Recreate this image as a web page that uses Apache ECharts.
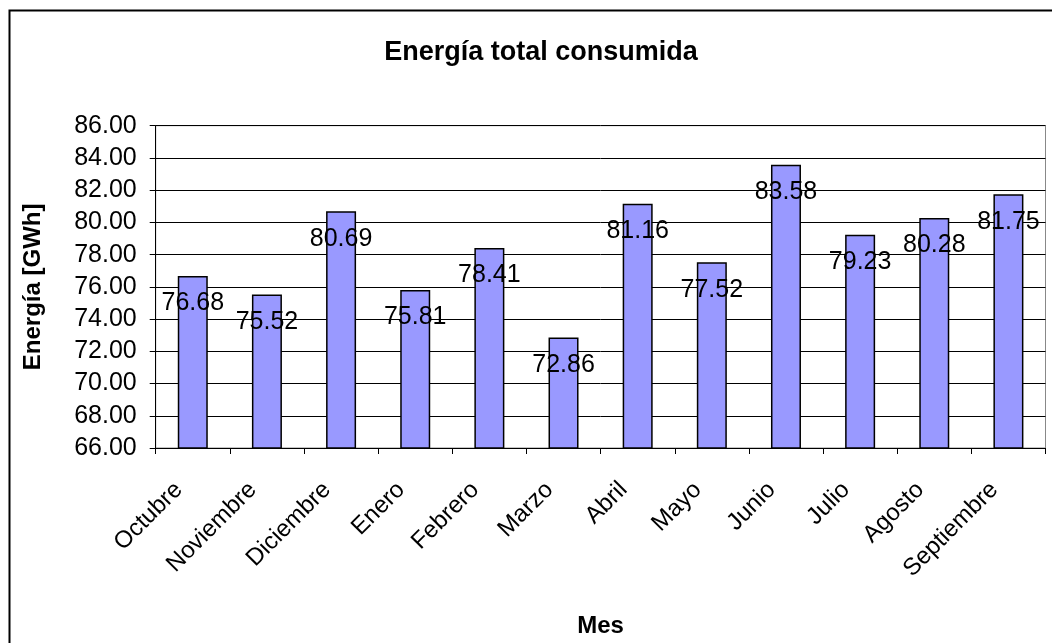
<!DOCTYPE html>
<html>
<head>
<meta charset="utf-8">
<script src="https://cdn.jsdelivr.net/npm/echarts@6/dist/echarts.min.js"></script>
<style>
html,body{margin:0;padding:0;background:#fff;}
#chart{width:1052px;height:643px;}
</style>
</head>
<body>
<div id="chart"></div>
<script>
const months = ['Octubre','Noviembre','Diciembre','Enero','Febrero','Marzo','Abril','Mayo','Junio','Julio','Agosto','Septiembre'];
const energy = [76.68, 75.52, 80.69, 75.81, 78.41, 72.86, 81.16, 77.52, 83.58, 79.23, 80.28, 81.75];
const chartTitle = 'Energía total consumida';
const yName = 'Energía [GWh]';
const xName = 'Mes';
const yMin = 66, yMax = 86, yStep = 2;

const FONT = '"Liberation Sans", Arial, sans-serif';
const chart = echarts.init(document.getElementById('chart'), null, {renderer: 'canvas'});
chart.setOption({
  animation: false,
  backgroundColor: '#fff',
  textStyle: {fontFamily: FONT, color: '#000'},
  title: {
    text: chartTitle,
    left: 536, top: 34, textAlign: 'center',
    textStyle: {fontFamily: FONT, fontSize: 27, fontWeight: 'bold', color: '#000'}
  },
  graphic: [{
    type: 'rect', silent: true, z: 100,
    shape: {x: 9.5, y: 10.5, width: 1100, height: 700},
    style: {fill: 'none', stroke: '#000', lineWidth: 2}
  }],
  grid: {
    left: 155.7, right: 6.5, top: 125.7, bottom: 193.7,
    show: true, borderColor: '#888', borderWidth: 1, backgroundColor: '#fff'
  },
  xAxis: {
    type: 'category', data: months,
    name: xName, nameLocation: 'middle', nameGap: 178,
    nameTextStyle: {fontFamily: FONT, fontSize: 24, fontWeight: 'bold', color: '#000', verticalAlign: 'middle'},
    axisLine: {lineStyle: {color: '#000', width: 1}},
    axisTick: {show: true, length: 6, lineStyle: {color: '#000'}},
    axisLabel: {rotate: 45, margin: 24, padding: [0, 20, 0, 0], fontFamily: FONT, fontSize: 24, color: '#000', interval: 0},
    splitLine: {show: false}
  },
  yAxis: {
    type: 'value', min: yMin, max: yMax, interval: yStep,
    name: yName, nameLocation: 'middle', nameGap: 110,
    nameTextStyle: {fontFamily: FONT, fontSize: 24, fontWeight: 'bold', color: '#000'},
    axisLine: {show: true, lineStyle: {color: '#000', width: 1}},
    axisTick: {show: true, length: 6, lineStyle: {color: '#000'}},
    axisLabel: {margin: 19, fontFamily: FONT, fontSize: 25, color: '#000', formatter: v => v.toFixed(2)},
    splitLine: {show: true, lineStyle: {color: '#000', width: 1}}
  },
  series: [{
    type: 'bar', data: energy, barWidth: 30,
    itemStyle: {color: '#9999FF', borderColor: '#000', borderWidth: 1.5},
    label: {
      show: true, position: 'insideTop', distance: 15,
      fontFamily: FONT, fontSize: 25, color: '#000',
      formatter: p => p.value.toFixed(2)
    }
  }]
});
</script>
</body>
</html>
